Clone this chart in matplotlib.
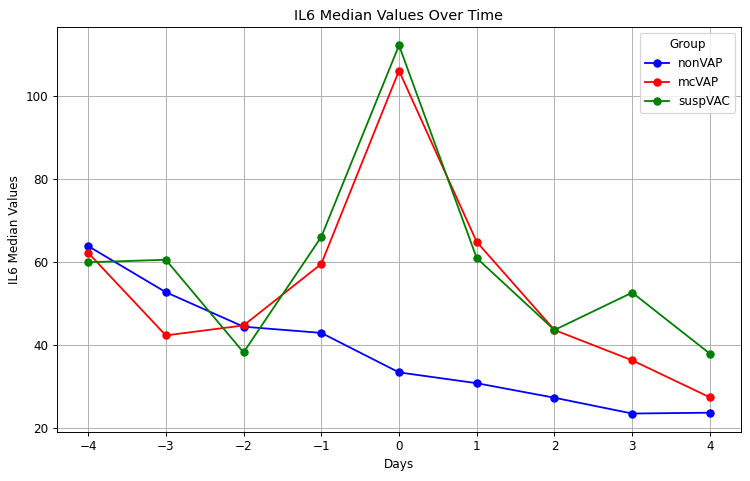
import matplotlib
matplotlib.use("Agg")
import matplotlib.pyplot as plt

days = [-4, -3, -2, -1, 0, 1, 2, 3, 4]
nonVAP = [63.9, 52.8, 44.5, 43.0, 33.5, 30.9, 27.4, 23.6, 23.8]
mcVAP = [62.3, 42.4, 44.8, 59.6, 106.1, 64.9, 43.7, 36.4, 27.5]
suspVAC = [60.0, 60.6, 38.3, 66.1, 112.2, 61.0, 43.7, 52.7, 38.0]

dpi = 86.5
fig, ax = plt.subplots(figsize=(750 / dpi, 481 / dpi), dpi=dpi)
ax.plot(days, nonVAP, marker='o', color='blue', label='nonVAP')
ax.plot(days, mcVAP, marker='o', color='red', label='mcVAP')
ax.plot(days, suspVAC, marker='o', color='green', label='suspVAC')

ax.set_title('IL6 Median Values Over Time')
ax.set_xlabel('Days')
ax.set_ylabel('IL6 Median Values')
ax.legend(title='Group')
ax.grid(True)

fig.subplots_adjust(left=0.076, right=0.988, top=0.944, bottom=0.102)
fig.savefig('out.png')
